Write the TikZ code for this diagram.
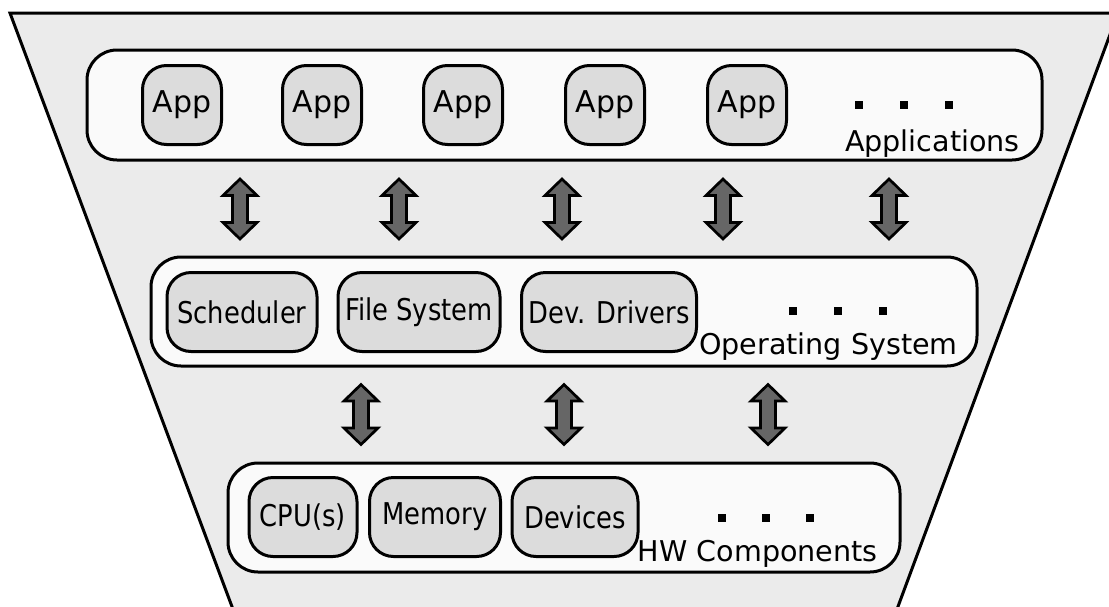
\documentclass[tikz,border=0pt]{standalone}
\usepackage{fontspec}
\setmainfont{DejaVu Sans}
\newfontfamily\condfont[FakeStretch=0.86]{DejaVu Sans}
\definecolor{bgfill}{HTML}{EBEBEB}
\definecolor{layerfill}{HTML}{FAFAFA}
\definecolor{compfill}{HTML}{DCDCDC}
\definecolor{arrowfill}{HTML}{666666}
\tikzset{
  layer/.style={draw=black, line width=3pt, fill=layerfill, rounded corners=30pt, inner sep=0pt},
  comp/.style={draw=black, line width=3pt, fill=compfill, rounded corners=24pt, minimum height=79pt, inner sep=0pt,
    font=\condfont\fontsize{30}{35}\selectfont},
  app/.style={comp, minimum width=79pt, font=\fontsize{30}{35}\selectfont},
  lbl/.style={anchor=base east, inner sep=0pt, font=\fontsize{28.6}{34}\selectfont},
  dotbox/.style={fill=black, minimum size=8pt, inner sep=0pt},
  dblarrow/.pic={\draw[line width=2.7pt, fill=arrowfill, line join=miter]
    (0,-30) -- (17,-13.5) -- (7.5,-13.5) -- (7.5,13.5) -- (17,13.5) -- (0,30)
    -- (-17,13.5) -- (-7.5,13.5) -- (-7.5,-13.5) -- (-17,-13.5) -- cycle;}
}
\begin{document}
\begin{tikzpicture}[x=1pt,y=-1pt]
\useasboundingbox (0,0) rectangle (1109,606);
\fill[white] (0,0) rectangle (1109,606);
\clip (0,0) rectangle (1109,606);
% outer funnel
\coordinate (tl) at (10,13);
\coordinate (tr) at (1118,13);
\coordinate (br) at (893,620);
\coordinate (bl) at (237,620);
\draw[line width=3pt, fill=bgfill, line join=miter] (tl) -- (tr) -- (br) -- (bl) -- cycle;

% layers
\node[layer, minimum width=955pt, minimum height=110pt] (applayer) at (564.5,105) {};
\node[layer, minimum width=826pt, minimum height=109pt] (oslayer) at (564,311.5) {};
\node[layer, minimum width=672pt, minimum height=109pt] (hwlayer) at (564,517.5) {};

% applications
\node[app] (app1) at (182,105) {App};
\node[app] (app2) at (322,105) {App};
\node[app] (app3) at (463,105) {App};
\node[app] (app4) at (605,105) {App};
\node[app] (app5) at (747,105) {App};
\node[dotbox] (ad1) at (859,105) {};
\node[dotbox] (ad2) at (904,105) {};
\node[dotbox] (ad3) at (949,105) {};
\node[lbl] (applbl) at (1020,151) {Applications};

% operating system
\node[comp, minimum width=150pt] (sched) at (242,312) {Scheduler};
\node[comp, minimum width=162pt] (fs) at (419,312) {File System};
\node[comp, minimum width=175pt] (drv) at (609,312) {Dev. Drivers};
\node[dotbox] (od1) at (793,311) {};
\node[dotbox] (od2) at (838,311) {};
\node[dotbox] (od3) at (883,311) {};
\node[lbl] (oslbl) at (958,354) {Operating System};

% hardware
\node[comp, minimum width=108pt] (cpu) at (303,517) {CPU(s)};
\node[comp, minimum width=131pt] (mem) at (435,517) {Memory};
\node[comp, minimum width=126pt] (dev) at (575,517) {Devices};
\node[dotbox] (hd1) at (722,518) {};
\node[dotbox] (hd2) at (766,518) {};
\node[dotbox] (hd3) at (810,518) {};
\node[lbl] (hwlbl) at (878,561) {HW Components};

% arrows between applications and OS
\pic (ua1) at (240,209) {dblarrow};
\pic (ua2) at (399,209) {dblarrow};
\pic (ua3) at (562,209) {dblarrow};
\pic (ua4) at (723,209) {dblarrow};
\pic (ua5) at (889,209) {dblarrow};
% arrows between OS and hardware
\pic (la1) at (361,414.5) {dblarrow};
\pic (la2) at (564,414.5) {dblarrow};
\pic (la3) at (768,414.5) {dblarrow};
\end{tikzpicture}
\end{document}
